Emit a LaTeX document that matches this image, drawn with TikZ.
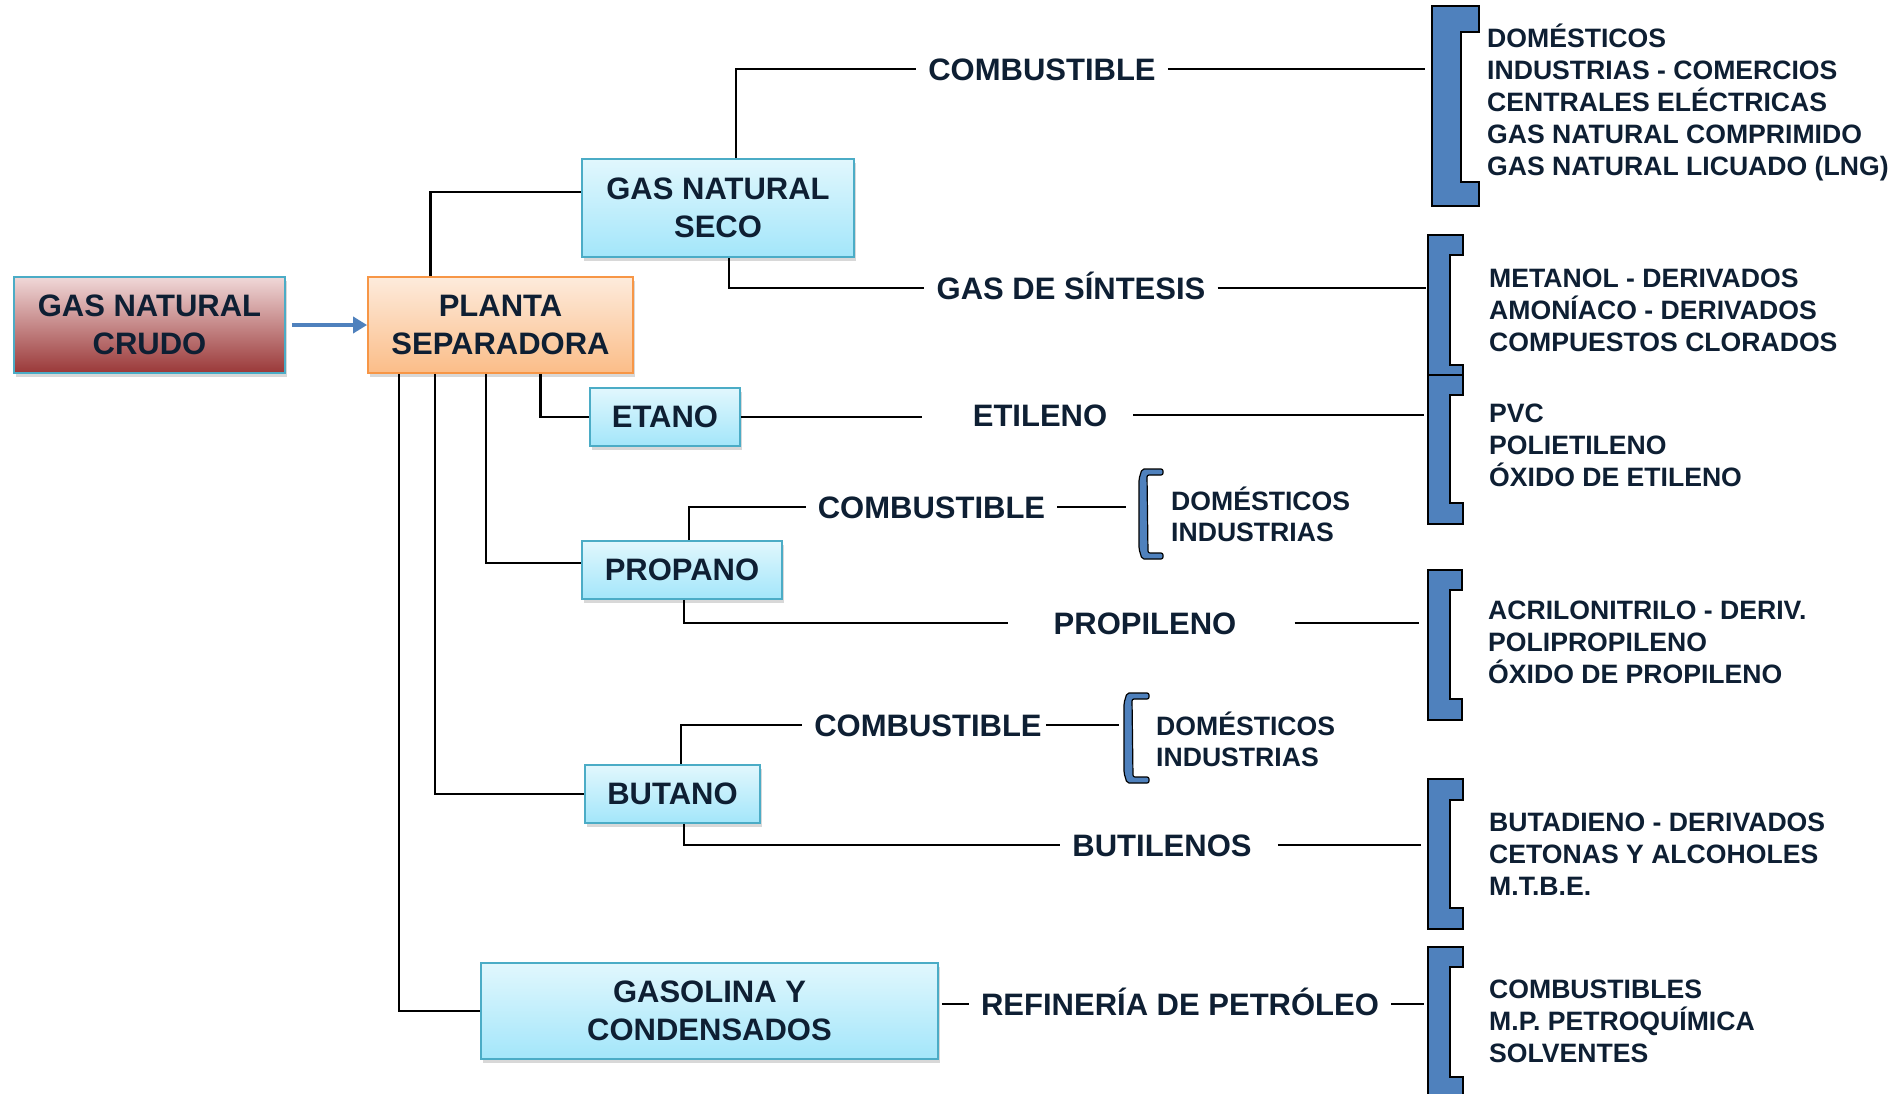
\documentclass[tikz,border=0pt]{standalone}
\usepackage{fontspec}
\setmainfont{Liberation Sans}
\usetikzlibrary{arrows.meta,shadows}

\definecolor{azulcorchete}{HTML}{4F81BD}
\definecolor{bordecian}{HTML}{4BACC6}
\definecolor{cianclaro}{HTML}{E1F7FD}
\definecolor{cianfuerte}{HTML}{A3E6FA}
\definecolor{rosaclaro}{HTML}{F0D8D8}
\definecolor{rojooscuro}{HTML}{9A3838}
\definecolor{naranjaclaro}{HTML}{FDEBDC}
\definecolor{naranjafuerte}{HTML}{FBBD88}
\definecolor{bordenaranja}{HTML}{F79646}
\definecolor{tinta}{HTML}{0E1F33}

% corchete grande: izq, interior, der, arriba, fin pestana sup, inicio pestana inf, abajo
\newcommand{\corchete}[7]{%
  \draw[corch] (#1,#4) -- (#3,#4) -- (#3,#5) -- (#2,#5) -- (#2,#6) -- (#3,#6) -- (#3,#7) -- (#1,#7) -- cycle;}
% corchete chico: izq, der, arriba, abajo
\newcommand{\corchetito}[4]{%
  \draw[corch,line width=1.2pt,rounded corners=2pt] (#2,#3) -- (#1+3,#3) -- (#1,#3+10) -- (#1,#4-10) -- (#1+3,#4) -- (#2,#4) -- (#2,#4-6) -- (#1+9,#4-6) -- (#1+8,#3+6) -- (#2,#3+6) -- cycle;}

\begin{document}
\begin{tikzpicture}[x=1pt,y=-1pt,
    caja/.style={draw=bordecian,line width=1.8pt,top color=cianclaro,bottom color=cianfuerte,
      align=center,font=\fontsize{31}{38}\selectfont\bfseries,text=tinta,
      drop shadow={opacity=0.3,shadow xshift=2pt,shadow yshift=-4pt}},
    rotulo/.style={font=\fontsize{31}{38}\selectfont\bfseries,text=tinta,inner xsep=12pt,inner ysep=2pt,
      text height=22pt,text depth=0pt},
    lista/.style={anchor=west,align=left,inner sep=0pt,font=\fontsize{26.6}{32}\selectfont\bfseries,text=tinta},
    link/.style={line width=2.6pt},
    flecha/.style={draw=azulcorchete,line width=4pt,-{Triangle[length=14pt,width=16pt]},shorten <=6pt},
    corch/.style={fill=azulcorchete,draw=black,line width=1.5pt}]
    \fill[white] (0,0) rectangle (1896,1093);
    \useasboundingbox (0,0) rectangle (1896,1093);
    \clip (0,0) rectangle (1896,1093);

    % cajas
    \node[caja,top color=rosaclaro,bottom color=rojooscuro,minimum width=271pt,minimum height=96pt] (crudo) at (149.5,325) {GAS NATURAL\\CRUDO};
    \node[caja,draw=bordenaranja,top color=naranjaclaro,bottom color=naranjafuerte,minimum width=265pt,minimum height=96pt] (planta) at (500.5,325) {PLANTA\\SEPARADORA};
    \node[caja,minimum width=272pt,minimum height=98pt] (gns) at (718,208) {GAS NATURAL\\SECO};
    \node[caja,minimum width=150pt,minimum height=58pt] (etano) at (665,417) {ETANO};
    \node[caja,minimum width=200pt,minimum height=58pt] (propano) at (682,570) {PROPANO};
    \node[caja,minimum width=175pt,minimum height=58pt] (butano) at (672.5,794) {BUTANO};
    \node[caja,minimum width=457pt,minimum height=96pt] (gasolina) at (709.5,1011) {GASOLINA Y\\CONDENSADOS};

    % rotulos intermedios
    \node[rotulo] (comb1) at (1042,69) {COMBUSTIBLE};
    \node[rotulo] (sintesis) at (1071,288) {GAS DE SÍNTESIS};
    \node[rotulo] (etileno) at (1040,415) {ETILENO};
    \node[rotulo] (comb2) at (931.5,507) {COMBUSTIBLE};
    \node[rotulo] (propileno) at (1145,623) {PROPILENO};
    \node[rotulo] (comb3) at (928,725) {COMBUSTIBLE};
    \node[rotulo] (butilenos) at (1162,845) {BUTILENOS};
    \node[rotulo] (refineria) at (1180,1004) {REFINERÍA DE PETRÓLEO};

    % corchetes
    \corchete{1432}{1461}{1479}{6}{32}{182}{206}
    \corchete{1428}{1450}{1463}{235}{255}{365}{375}
    \corchete{1428}{1450}{1463}{375}{395}{503}{524}
    \corchete{1428}{1450}{1462}{570}{590}{699}{720}
    \corchete{1428}{1450}{1463}{779}{800}{908}{929}
    \corchete{1428}{1450}{1463}{947}{967}{1077}{1100}
    \corchetito{1139}{1163}{469}{559}
    \corchetito{1124}{1149}{693}{783}
    \coordinate (k1) at (1425,69);
    \coordinate (k2) at (1426,290);
    \coordinate (k3) at (1424,411);
    \coordinate (k4) at (1419,623);
    \coordinate (k5) at (1421,847);
    \coordinate (k6) at (1424,1004);
    \coordinate (s1) at (1126,506);
    \coordinate (s2) at (1119,730);

    % usos
    \node[lista] (usos1) at (1487,102) {DOMÉSTICOS\\INDUSTRIAS - COMERCIOS\\CENTRALES ELÉCTRICAS\\GAS NATURAL COMPRIMIDO\\GAS NATURAL LICUADO (LNG)};
    \node[lista] (usos2) at (1489,310) {METANOL - DERIVADOS\\AMONÍACO - DERIVADOS\\COMPUESTOS CLORADOS};
    \node[lista] (usos3) at (1489,445) {PVC\\POLIETILENO\\ÓXIDO DE ETILENO};
    \node[lista] (usos4) at (1488,642) {ACRILONITRILO - DERIV.\\POLIPROPILENO\\ÓXIDO DE PROPILENO};
    \node[lista] (usos5) at (1489,854) {BUTADIENO - DERIVADOS\\CETONAS Y ALCOHOLES\\M.T.B.E.};
    \node[lista] (usos6) at (1489,1021) {COMBUSTIBLES\\M.P. PETROQUÍMICA\\SOLVENTES};
    \node[lista,font=\fontsize{26.6}{31}\selectfont\bfseries] (usos7) at (1171,514) {DOMÉSTICOS\\INDUSTRIAS};
    \node[lista,font=\fontsize{26.6}{31}\selectfont\bfseries] (usos8) at (1156,739) {DOMÉSTICOS\\INDUSTRIAS};

    % conexiones
    \draw[flecha] (crudo) -- (planta);
    \draw[link] ([xshift=-70pt]planta.north) |- ([yshift=16pt]gns.west);
    \draw[link] ([xshift=40pt]planta.south) |- (etano.west);
    \draw[link] ([xshift=-14.5pt]planta.south) |- ([yshift=7pt]propano.west);
    \draw[link] ([xshift=-65.5pt]planta.south) |- (butano.west);
    \draw[link] ([xshift=-101.5pt]planta.south) |- (gasolina.west);

    \draw[link] ([xshift=18pt]gns.north) |- (comb1.west);
    \draw[link] ([xshift=11pt]gns.south) |- (sintesis.west);
    \draw[link,shorten >=39pt] (etano.east) -- (etano.east -| etileno.west);
    \draw[link] ([xshift=7pt]propano.north) |- (comb2.west);
    \draw[link,shorten >=34pt] ([xshift=2pt]propano.south) |- (propileno.west);
    \draw[link] ([xshift=8.5pt]butano.north) |- (comb3.west);
    \draw[link] ([xshift=11.5pt]butano.south) |- (butilenos.west);
    \draw[link,shorten <=3pt] (gasolina.east |- refineria.west) -- (refineria.west);

    \foreach \a/\b in {comb1/k1,sintesis/k2,comb2/s1,refineria/k6}
    \draw[link] (\a.east) -- (\a.east -| \b);
    \draw[link,shorten <=14pt] (etileno.east) -- (etileno.east -| k3);
    \draw[link,shorten <=46pt] (propileno.east) -- (propileno.east -| k4);
    \draw[link,shorten <=14pt] (butilenos.east) -- (butilenos.east -| k5);
    \draw[link,shorten <=-8pt] (comb3.east) -- (comb3.east -| s2);
\end{tikzpicture}
\end{document}
